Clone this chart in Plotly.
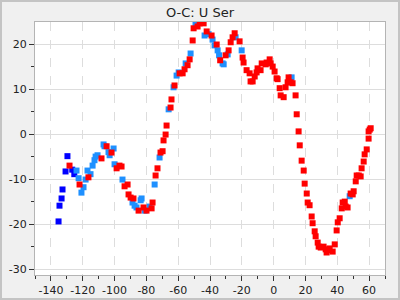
import plotly.graph_objects as go

blue_x = [-129.6, -130.8, -126.6, -125.3, -132.7, -133.3, -134.6, -135.2]
blue_y = [-4.9, -8.3, -7.9, -8.9, -12.3, -14.3, -15.9, -19.4]

dodger_x = [-123.9, -122.6, -119.5, -120.8, -118.2, -117.0, -115.1, -113.8, -112.6, -111.9,
            -110.7, -106.9, -106.3, -103.1, -100.6, -100.0, -95.0, -103.8,
            -88.7, -87.4, -86.2, -83.6, -83.0, -81.1, -78.0, -74.8, -71.7,
            -62.9, -66.0, -61.0, -59.7, -55.3, -52.2, -49.1, -43.4, -40.9, -38.4,
            -37.1, -35.2, -34.3, -32.1, -31.4, -28.9, -23.9, -20.1, 11.3, 47.8]
dodger_y = [-8.1, -9.8, -11.8, -13.0, -10.1, -8.1, -8.9, -7.0, -5.8, -5.0,
            -4.7, -2.3, -2.7, -4.7, -3.2, -6.7, -10.1, -4.0,
            -15.2, -15.9, -16.3, -14.7, -14.3, -17.0, -16.1, -11.2, -5.2,
            10.4, 5.5, 13.0, 13.7, 15.7, 17.9, 24.4, 21.9, 22.2, 21.0,
            19.7, 18.6, 17.5, 15.7, 15.5, 17.7, 21.5, 18.6, 12.6, -13.8]

red_x = [-128.3, -122.0, -116.4, -108.2, -105.0, -101.9, -98.7, -96.9, -95.6, -93.7,
         -91.8, -91.2, -89.9, -88.1, -84.9, -81.8, -79.9, -76.7, -76.1, -74.2,
         -73.0, -71.1, -69.8, -69.2, -67.9, -67.3, -64.8, -64.2, -62.3,
         -59.1, -57.2, -56.0, -54.1, -52.8, -50.9, -50.3, -47.8, -46.5, -44.0,
         -42.1, -39.0, -35.8, -33.6, -30.2, -28.3, -27.0, -25.8, -24.5, -21.4,
         -19.5, -18.9, -17.0, -15.1, -14.5, -13.2, -11.9, -10.7, -10.1, -8.2,
         -7.5, -5.0, -4.4, -2.5, -1.9, -0.6, 0.6, 1.9, 2.5, 3.8,
         4.4, 6.3, 7.5, 8.8, 9.4, 10.7, 11.9, 13.8, 14.5, 15.7,
         16.4, 17.6, 18.9, 19.5, 20.8, 21.4, 22.6, 23.9, 24.5, 25.8,
         26.4, 27.7, 28.3, 29.6, 31.4, 32.7, 33.3, 34.6, 35.2, 37.1,
         38.4, 39.6, 40.3, 41.5, 42.8, 43.4, 44.7, 45.3, 46.5, 48.4,
         49.7, 50.3, 51.6, 52.2, 53.5, 54.7, 55.3, 56.6, 57.2, 58.5,
         59.7, 59.7, 60.4, 61.0]
red_y = [-7.0, -11.2, -9.6, -5.4, -2.7, -4.1, -7.6, -7.0, -7.2, -11.6,
         -11.2, -13.4, -14.1, -14.3, -17.0, -16.3, -17.0, -16.5, -15.2, -9.2,
         -7.6, -4.1, -3.8, -1.4, -0.1, 1.9, 5.9, 7.7, 10.8,
         13.5, 13.5, 14.4, 15.3, 16.6, 20.8, 23.5, 23.9, 24.6, 24.6,
         22.8, 21.9, 19.9, 16.4, 17.5, 18.6, 20.4, 21.5, 22.4, 20.6,
         17.0, 15.9, 14.2, 13.5, 11.7, 11.7, 12.8, 13.7, 14.6, 14.2,
         15.7, 15.5, 15.9, 16.6, 15.7, 15.0, 13.9, 12.4, 12.2, 10.2,
         8.6, 8.2, 10.4, 11.5, 12.6, 11.5, 11.3, 8.6, 4.4, 0.6,
         -2.5, -5.9, -8.1, -11.0, -13.2, -15.2, -15.8, -18.3, -19.8, -21.6,
         -22.7, -24.1, -25.0, -25.2, -25.0, -25.6, -26.3, -25.8, -25.4, -26.1,
         -24.5, -21.4, -19.6, -18.7, -16.5, -15.2, -15.0, -16.1, -16.3, -13.2,
         -13.4, -12.7, -10.5, -9.2, -9.2, -9.4, -7.6, -6.1, -4.5, -3.4,
         -1.0, 0.6, 1.0, 1.3]

x_ticks = [-140, -120, -100, -80, -60, -40, -20, 0, 20, 40, 60]
y_ticks = [-30, -20, -10, 0, 10, 20]
title = "O-C: U Ser"

fig = go.Figure()
for xs, ys, col in [(blue_x, blue_y, "#0000ff"), (dodger_x, dodger_y, "#1e90ff"), (red_x, red_y, "#ff0000")]:
    fig.add_trace(go.Scatter(x=xs, y=ys, mode="markers",
                             marker=dict(symbol="square", size=6, color=col, line=dict(width=0)),
                             showlegend=False))

axis_common = dict(showline=True, mirror=True, linecolor="#b4b4b4", linewidth=1,
                   ticks="outside", ticklen=5, tickcolor="#333333", zeroline=False,
                   automargin=False,
                   tickfont=dict(family="DejaVu Sans", size=11, color="#222222"))

fig.update_xaxes(range=[-150, 70], tickvals=x_ticks, ticktext=[str(v) for v in x_ticks],
                 showgrid=True, gridcolor="#dddddd", griddash="dash", gridwidth=1,
                 minor=dict(dtick=10, tick0=0, ticks="outside", ticklen=3, tickcolor="#333333", showgrid=False),
                 **axis_common)
fig.update_yaxes(range=[-31.3, 24.9], tickvals=y_ticks, ticktext=[str(v) for v in y_ticks],
                 showgrid=True, gridcolor="#dddddd", gridwidth=1,
                 minor=dict(dtick=5, tick0=0, ticks="outside", ticklen=3, tickcolor="#333333", showgrid=False),
                 **axis_common)

fig.update_layout(
    width=400, height=300,
    margin=dict(l=35, r=15, t=22, b=25, autoexpand=False),
    paper_bgcolor="#f0f0f0", plot_bgcolor="#ffffff",
    title=dict(text=title, x=0.5, xanchor="center", y=0.96, yanchor="middle",
               font=dict(family="DejaVu Sans", size=13, color="#222222")),
    shapes=[dict(type="rect", xref="paper", yref="paper",
                 x0=(1 - 35) / 350, x1=(399 - 35) / 350,
                 y0=(275 - 299) / 253, y1=(275 - 1) / 253,
                 line=dict(color="#c4c4c4", width=2), layer="below")],
)

fig.write_html("out.html")
